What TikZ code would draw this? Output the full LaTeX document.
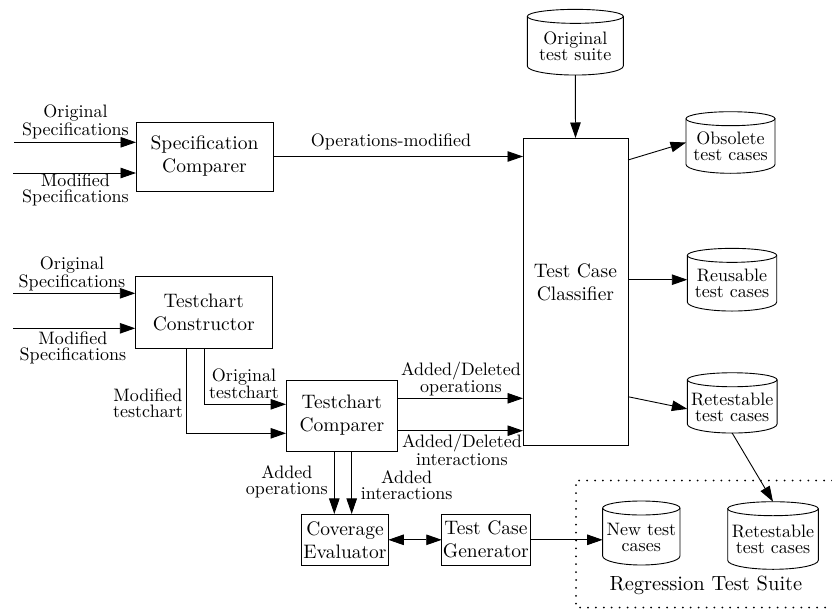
\documentclass[tikz,border=0pt]{standalone}
\usepackage{fontspec}
\setmainfont{lmroman10-regular}[Extension=.otf]
\usetikzlibrary{arrows.meta,calc}
\newcommand\bxfont{\fontsize{19.5}{23}\selectfont}
\newcommand\lbfont{\fontsize{18}{16}\selectfont}
\newcommand\tagfont{\fontsize{20.5}{24}\selectfont}
\tikzset{
  line/.style={line width=0.9pt},
  arr/.style={line, -{Triangle[length=15.5pt,width=10.5pt]}},
  darr/.style={line, {Triangle[length=15.5pt,width=10.5pt]}-{Triangle[length=15.5pt,width=10.5pt]}},
  box/.style={draw, line width=0.9pt, inner sep=0pt, outer sep=0pt, align=center, font=\bxfont},
  lbl/.style={align=center, inner sep=0pt, font=\lbfont},
  drumbox/.style={inner sep=0pt, outer sep=0pt},
  drumtxt/.style={align=center, inner sep=0pt, font=\lbfont},
  region/.style={line width=2pt, line cap=round, dash pattern=on 0pt off 7.9pt},
}
% storage drum: name, centre, width, height, text
\newcommand\drum[5]{%
  \node[drumbox, minimum width=#3pt, minimum height=#4pt] (#1) at (#2) {};
  \node[drumtxt] at ($(#1.center)+(0,-4)$) {#5};
  \draw[line] ($(#1.north west)+(0,-7)$) -- ($(#1.south west)+(0,9)$)
    arc[start angle=180, end angle=360, x radius=#3pt/2, y radius=9pt]
    -- ($(#1.north east)+(0,-7)$);
  \draw[line] ($(#1.north)+(0,-7)$) ellipse[x radius=#3pt/2, y radius=7pt];
}
\begin{document}
\begin{tikzpicture}[x=1pt,y=1pt]
\useasboundingbox (0,0) rectangle (832,-610);

% processing boxes
\node[box, minimum width=137pt, minimum height=69pt] (spec) at (204.5,-156.5) {Specification\\Comparer};
\node[box, minimum width=137pt, minimum height=72pt] (tcc) at (203.8,-312.2) {Testchart\\Constructor};
\node[box, minimum width=111.7pt, minimum height=71pt] (tcmp) at (341.9,-415.5) {Testchart\\Comparer};
\node[box, minimum width=105pt, minimum height=307pt] (cls) at (575.5,-291.5) {};
\node[lbl, font=\bxfont] (clstxt) at (575.5,-282) {Test Case\\Classifier};
\node[box, minimum width=86.6pt, minimum height=51.7pt] (cov) at (345,-539.8) {Coverage\\Evaluator};
\node[box, minimum width=88.3pt, minimum height=51.7pt] (gen) at (485.9,-539.8) {Test Case\\Generator};

% test suites
\drum{ots}{575.3,-42.2}{96}{65.7}{Original\\test suite}
\drum{obs}{730.5,-142.5}{89}{61.6}{Obsolete\\test cases}
\drum{reu}{732,-279.7}{89.4}{62.7}{Reusable\\test cases}
\drum{ret}{732.2,-402.9}{89.7}{60.3}{Retestable\\test cases}
\drum{newt}{641.3,-533}{77.3}{64}{New test\\cases}
\drum{rets}{773,-535.5}{90.6}{67.6}{Retestable\\test cases}

% specification inputs
\coordinate (s1) at (14,-142.3);
\coordinate (s2) at (13,-173);
\draw[arr] (s1) -- (s1 -| spec.west);
\draw[arr] (s2) -- (s2 -| spec.west);
\node[lbl] (ls1) at (75.5,-122) {Original\\Specifications};
\node[lbl] (ls2) at (75.5,-190.3) {Modified\\Specifications};

\coordinate (t1) at (13,-293.3);
\coordinate (t2) at (13,-328.3);
\draw[arr] (t1) -- (t1 -| tcc.west);
\draw[arr] (t2) -- (t2 -| tcc.west);
\node[lbl] (lt1) at (72,-273.7) {Original\\Specifications};
\node[lbl] (lt2) at (73,-347.5) {Modified\\Specifications};

% comparer to classifier
\draw[arr] (spec.east) -- (spec.east -| cls.west);
\node[lbl] (lops) at (391,-142) {Operations-modified};

% testcharts
\coordinate (oc) at ($(tcc.south)+(0.5,0)$);
\coordinate (mc) at ($(tcc.south)+(-17.1,0)$);
\coordinate (oi) at ($(tcmp.west)+(0,11.2)$);
\coordinate (mi) at ($(tcmp.west)+(0,-17.8)$);
\draw[arr] (oc) |- (oi);
\draw[arr] (mc) |- (mi);
\node[lbl, anchor=west] (loc) at (209,-383.5) {Original\\testchart};
\node[lbl, anchor=east] (lmc) at (183,-403.3) {Modified\\testchart};

% comparer outputs
\coordinate (co1) at ($(tcmp.east)+(0,17.2)$);
\coordinate (co2) at ($(tcmp.east)+(0,-15.2)$);
\draw[arr] (co1) -- (co1 -| cls.west);
\draw[arr] (co2) -- (co2 -| cls.west);
\node[lbl] (lado) at (461,-378.7) {Added/Deleted\\operations};
\node[lbl] (ladi) at (462,-450) {Added/Deleted\\interactions};

\coordinate (d1) at ($(tcmp.south)+(-7.6,0)$);
\coordinate (d2) at ($(tcmp.south)+(9.8,0)$);
\draw[arr] (d1) -- (d1 |- cov.north);
\draw[arr] (d2) -- (d2 |- cov.north);
\node[lbl] (lao) at (286.8,-481.5) {Added\\operations};
\node[lbl] (lai) at (406.7,-484.7) {Added\\interactions};

\draw[darr] (cov.east) -- (gen.west);
\draw[arr] (gen.east) -- (gen.east -| newt.west);

% classifier inputs and outputs
\draw[arr] (ots.south) -- (cls.north);
\draw[arr] ($(cls.north east)+(0,-22)$) -- (obs.west);
\draw[arr] (reu.west -| cls.east) -- (reu.west);
\draw[arr] ($(cls.north east)+(0,-258.7)$) -- ($(ret.west)+(0,-6)$);
\draw[arr] (ret.south) -- (rets.north);

% regression test suite
\draw[region] (832,-480.5) -| (576,-607.5) -- (832,-607.5);
\node[lbl, font=\tagfont] (rts) at (706,-585) {Regression Test Suite};
\end{tikzpicture}
\end{document}
